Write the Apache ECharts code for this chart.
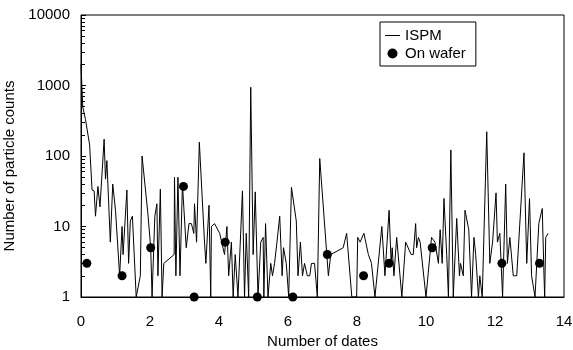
<!DOCTYPE html>
<html>
<head>
<meta charset="utf-8">
<script src="https://cdn.jsdelivr.net/npm/echarts@6/dist/echarts.min.js"></script>
<style>html,body{margin:0;padding:0;background:#fff}#c{width:573px;height:350px}</style>
</head>
<body>
<div id="c"></div>
<script>
var ispmDays = [0.00,0.05,0.13,0.25,0.32,0.38,0.42,0.49,0.55,0.67,0.71,0.75,0.85,0.92,1.00,1.12,1.19,1.22,1.33,1.38,1.43,1.49,1.60,1.72,1.77,1.94,2.02,2.06,2.14,2.20,2.23,2.30,2.35,2.40,2.70,2.71,2.75,2.81,2.87,2.94,3.05,3.13,3.20,3.27,3.29,3.35,3.43,3.58,3.62,3.71,3.76,3.78,3.87,4.02,4.16,4.23,4.28,4.36,4.41,4.47,4.52,4.55,4.68,4.74,4.79,4.86,4.92,4.99,5.05,5.13,5.21,5.28,5.30,5.35,5.42,5.50,5.55,5.61,5.68,5.76,5.83,5.87,5.95,6.02,6.10,6.24,6.29,6.36,6.42,6.48,6.56,6.63,6.68,6.77,6.85,6.92,7.17,7.24,7.60,7.70,7.85,7.99,8.02,8.09,8.20,8.33,8.42,8.52,8.72,8.81,8.93,8.99,9.02,9.07,9.15,9.30,9.41,9.57,9.63,9.70,9.73,9.78,9.83,10.00,10.16,10.26,10.36,10.41,10.47,10.52,10.60,10.65,10.72,10.79,10.89,10.97,11.00,11.08,11.13,11.24,11.32,11.39,11.44,11.52,11.56,11.63,11.76,11.85,11.93,12.03,12.07,12.14,12.22,12.31,12.36,12.43,12.53,12.63,12.84,12.92,13.00,13.06,13.16,13.27,13.37,13.42,13.44,13.47,13.54];
var ispmCounts = [2000,500,330,143,33,32,14,37,19,173,47,86,6,40,17,2,10,4,33,3,12,14,1,2,100,15,5,1,14,21,2,34,1,3,4,50,2,50,2,40,5,11,11,8,21,6,157,6,3,20,1,10,11,8,4,10,2,6,1,4,4,1,32,1,8,1,943,4,31,1,6,7,1,11,1,3,2,3,6,14,2,5,3,1,36,12,2,6,2,3,2,2,3,3,1,92,2,4,5,8,1,1,7,6,8,4,3,1,10,2,17,3,5,2,7,1,6,4,4,11,5,7,6,1,7,6,3,9,3,25,4,1,122,1,13,2,3,2,17,9,1,7,4,1,2,1,221,3,6,30,6,8,1,40,3,7,2,2,111,3,25,2,1,11,18,2,1,7,8];
var waferDays = [0.17,1.19,2.02,2.97,3.28,4.18,5.11,6.14,7.14,8.19,8.93,10.18,12.20,13.29];
var waferCounts = [3,2,5,37,1,6,1,1,4,2,3,5,3,3];
var xTicks = [0,2,4,6,8,10,12,14];
var yMinorTicks = [2,3,4,5,6,7,8,9,20,30,40,50,60,70,80,90,200,300,400,500,600,700,800,900,2000,3000,4000,5000,6000,7000,8000,9000];

var ispmData = ispmDays.map(function(d,i){return [d, ispmCounts[i]];});
var waferData = waferDays.map(function(d,i){return [d, waferCounts[i]];});
var FONT = "'Liberation Sans', Arial, sans-serif";
var FS = 15;
function lg(v){ return Math.log(v) / Math.LN10; }

var chart = echarts.init(document.getElementById('c'), null, {renderer:'canvas'});
chart.setOption({
  animation: false,
  backgroundColor: '#fff',
  textStyle: {fontFamily: FONT, color: '#000'},
  grid: {left: 81, top: 15, right: 9, bottom: 53, containLabel: false, outerBoundsMode: 'none',
    show: true, borderColor: '#000', borderWidth: 1, backgroundColor: 'transparent'},
  legend: {
    orient: 'vertical', left: 380, top: 22, width: 94,
    borderColor: '#000', borderWidth: 1, backgroundColor: '#fff',
    padding: [6, 10, 5, 5], itemGap: 3, itemWidth: 15, itemHeight: 10,
    textStyle: {fontFamily: FONT, fontSize: FS, color: '#000'},
    data: [
      {name: 'ISPM', icon: 'path://M0,0 L15,0 L15,1 L0,1 Z'},
      {name: 'On wafer', icon: 'circle'}
    ]
  },
  xAxis: {
    type: 'value', min: 0, max: 14, interval: 2,
    name: 'Number of dates', nameLocation: 'middle', nameGap: 37,
    nameTextStyle: {fontFamily: FONT, fontSize: FS, color: '#000'},
    axisLine: {lineStyle: {color: '#000', width: 1}},
    axisTick: {show: false},
    splitLine: {show: false},
    axisLabel: {fontFamily: FONT, fontSize: FS, color: '#000', margin: 17, customValues: xTicks}
  },
  yAxis: [{
    type: 'log', logBase: 10, min: 1, max: 10000,
    name: 'Number of particle counts', nameLocation: 'middle', nameGap: 54, nameRotate: 90,
    nameTextStyle: {fontFamily: FONT, fontSize: FS, color: '#000', padding: [0, 20, 0, 0]},
    axisLine: {show: true, lineStyle: {color: '#000', width: 1}},
    axisTick: {show: true, inside: true, length: 5, lineStyle: {color: '#000', width: 1}},
    splitLine: {show: false},
    axisLabel: {fontFamily: FONT, fontSize: FS, color: '#000', margin: 11,
      formatter: function(v){ return String(Math.round(v)); }}
  }, {
    type: 'value', min: 0, max: 4, position: 'left',
    axisLine: {show: false}, axisLabel: {show: false}, splitLine: {show: false},
    axisTick: {show: true, inside: true, length: 4, customValues: yMinorTicks.map(lg), lineStyle: {color: '#000', width: 1}}
  }],
  series: [{
    name: 'ISPM', type: 'line', data: ispmData, yAxisIndex: 0,
    symbol: 'none', showSymbol: false,
    lineStyle: {color: '#000', width: 1}, itemStyle: {color: '#000'}
  }, {
    name: 'On wafer', type: 'scatter', data: waferData, yAxisIndex: 0,
    symbol: 'circle', symbolSize: 9, clip: false,
    itemStyle: {color: '#000', opacity: 1}
  }]
});
</script>
</body>
</html>
